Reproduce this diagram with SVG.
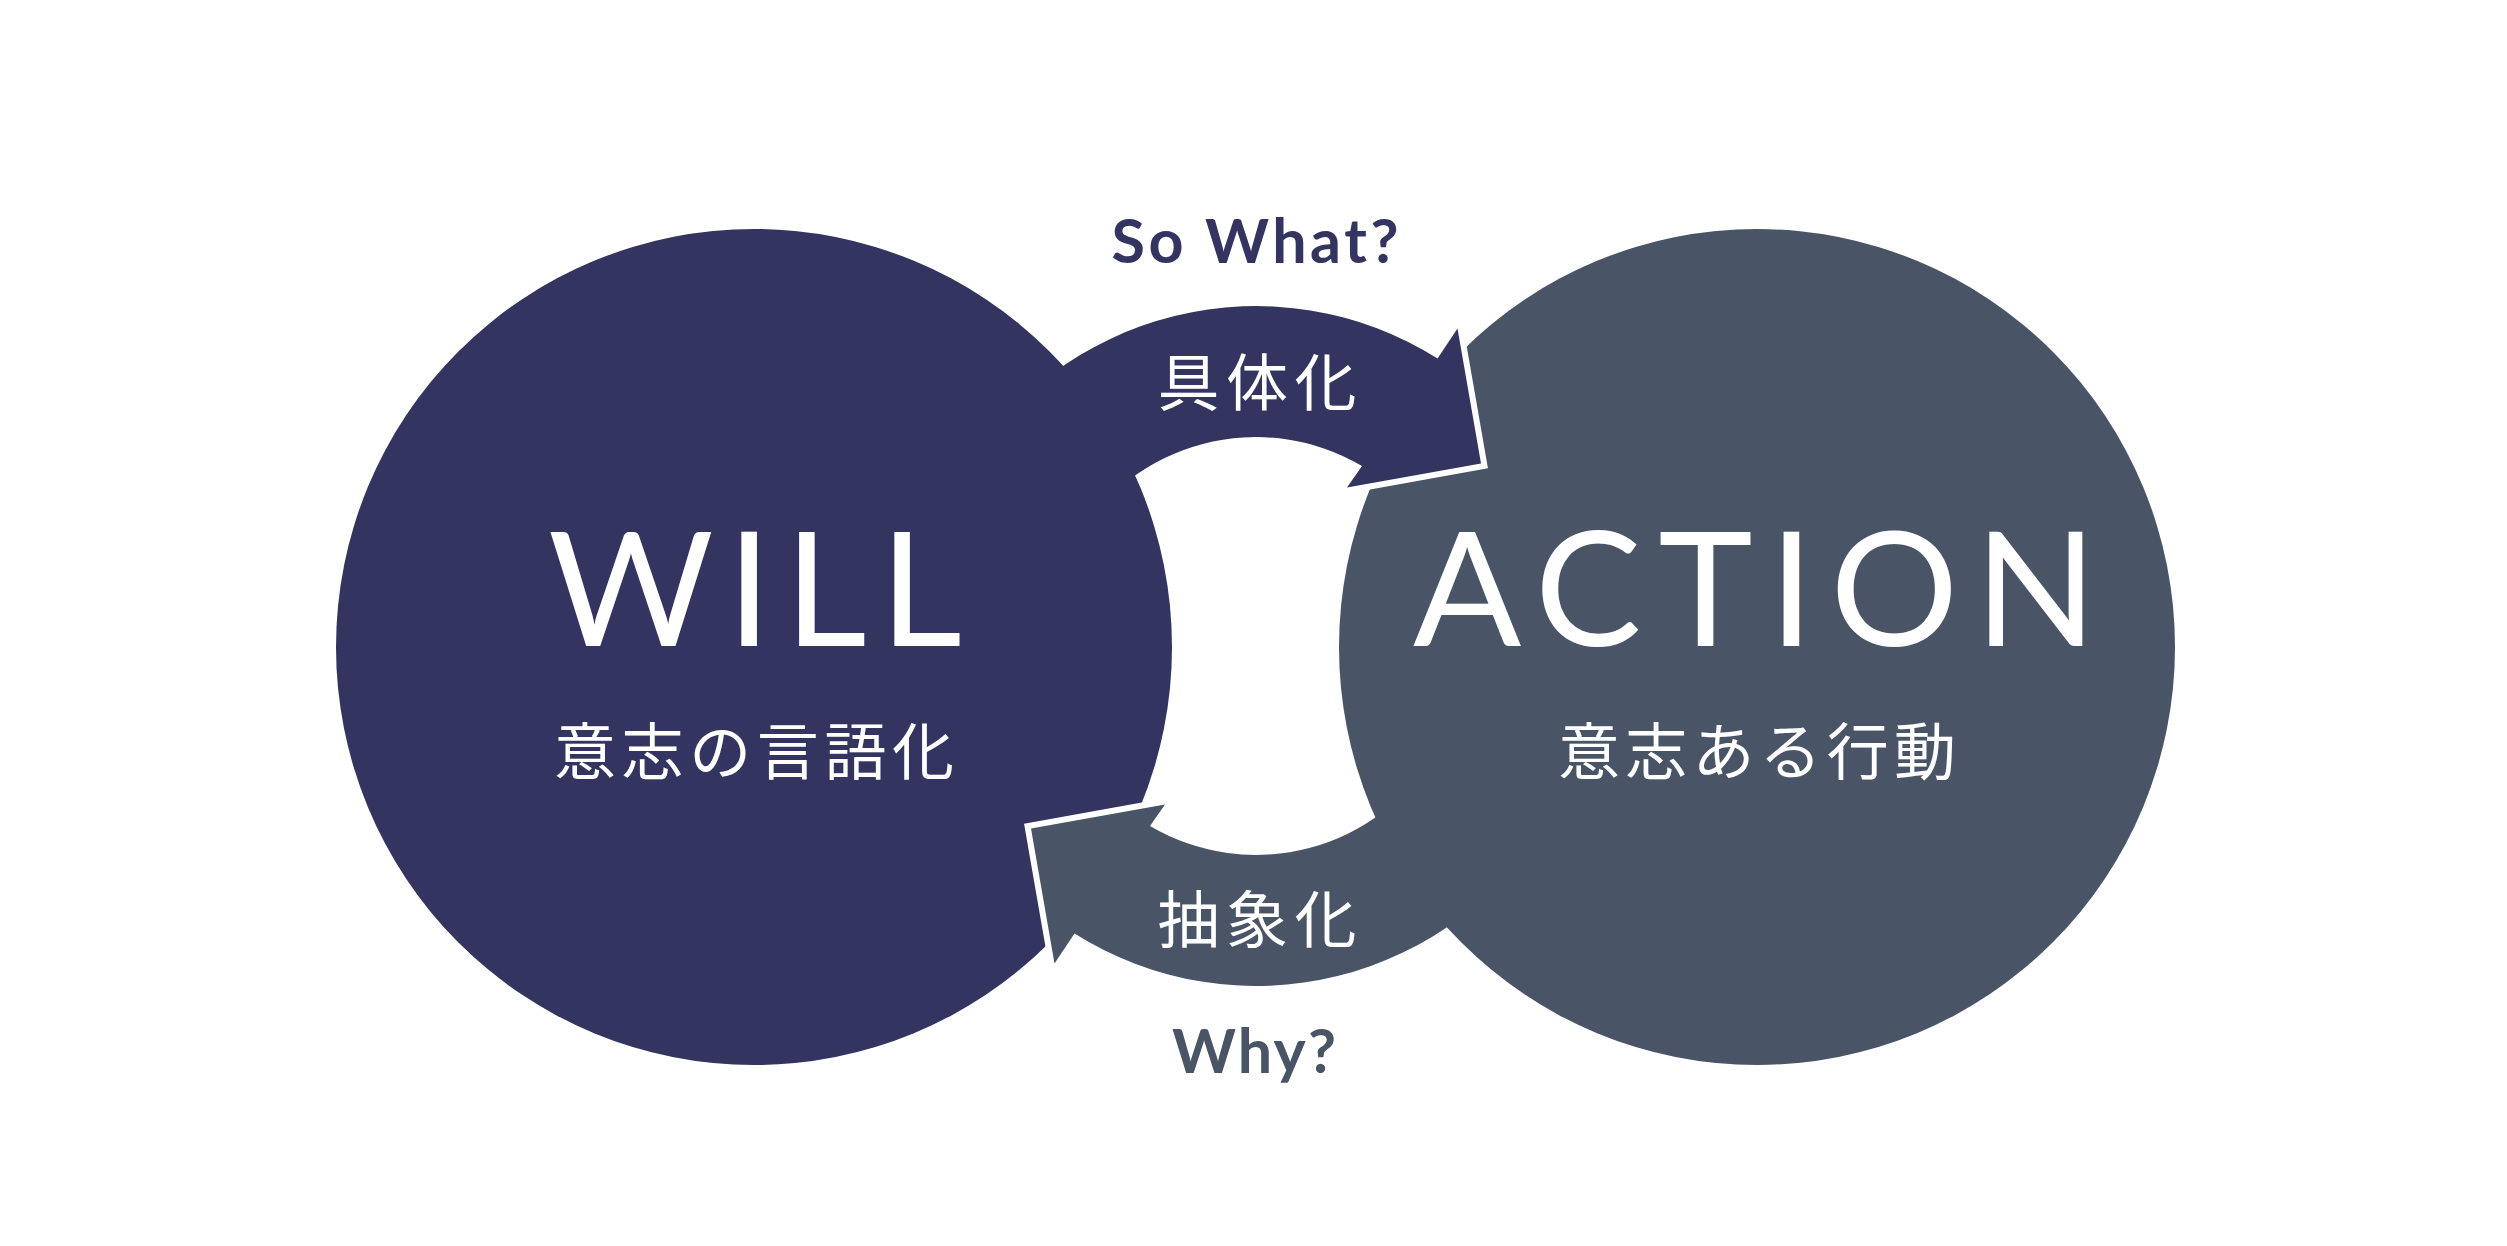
<svg xmlns="http://www.w3.org/2000/svg" width="2507" height="1246" viewBox="0 0 2507 1246">
<style>
.navy{fill:#333460}
.gray{fill:#495466}
.outline{fill:none;stroke:#ffffff;stroke-width:12;stroke-linejoin:miter;stroke-miterlimit:10}
.big{font-family:"Lato","Open Sans","Liberation Sans",sans-serif;font-weight:400;font-size:160px;fill:#ffffff;text-anchor:middle}
.jp{font-family:"Noto Sans CJK JP","Noto Sans",sans-serif;font-weight:400;font-size:62px;fill:#ffffff;text-anchor:middle}
.q{font-family:"Lato","Open Sans","Liberation Sans",sans-serif;font-weight:700;font-size:61px;text-anchor:middle}
</style>
<defs>
<path id="arrowShape" d="M 961.6 476 A 340 340 0 0 1 1437.5 358.5 L 1457.5 328.5 L 1481 463.5 L 1347 487.5 L 1362 466 A 209 209 0 0 0 1075 541.5 Z"/>
<path id="arrowOutline" d="M 1457.5 328.5 L 1481 463.5 L 1347 487.5"/>
</defs>
<rect x="0" y="0" width="2507" height="1246" fill="#ffffff"/>
<g id="node-will">
<circle class="navy" cx="754" cy="647" r="418"/>
<text class="big" x="755" y="646" textLength="414" lengthAdjust="spacing">WILL</text>
<text class="jp" x="754" y="775" textLength="400" lengthAdjust="spacing">意志の言語化</text>
</g>
<g id="node-action">
<circle class="gray" cx="1757" cy="647" r="418"/>
<text class="big" x="1755" y="646" textLength="684" lengthAdjust="spacing">ACTION</text>
<text class="jp" x="1757" y="775" textLength="398" lengthAdjust="spacing">意志ある行動</text>
</g>
<g id="connectors">
<g id="arrow-concretize">
<use href="#arrowOutline" class="outline"/>
<use href="#arrowShape" class="navy"/>
<text class="jp" x="1257" y="406" textLength="199" lengthAdjust="spacing">具体化</text>
</g>
<g id="arrow-abstract">
<g transform="rotate(180 1256 646)">
<use href="#arrowOutline" class="outline"/>
<use href="#arrowShape" class="gray"/>
</g>
<text class="jp" x="1257" y="943" textLength="199" lengthAdjust="spacing">抽象化</text>
</g>
</g>
<g id="labels">
<text class="q" x="1255" y="263" fill="#333460" textLength="287" lengthAdjust="spacing">So What?</text>
<text class="q" x="1254" y="1073" fill="#495466" textLength="164" lengthAdjust="spacing">Why?</text>
</g>
</svg>
